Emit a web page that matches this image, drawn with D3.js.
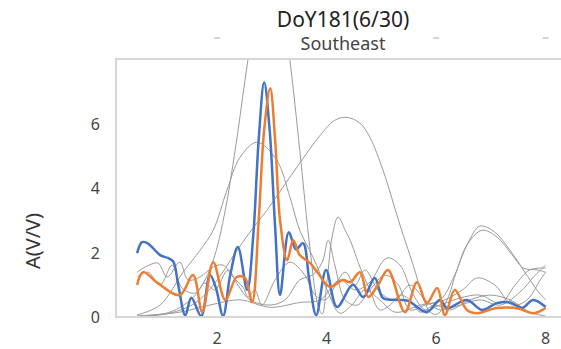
<!DOCTYPE html>
<html>
<head>
<meta charset="utf-8">
<script src="https://cdn.jsdelivr.net/npm/d3@7"></script>
<style>
  body { margin: 0; background: #fff; }
  text { font-family: "Noto Sans", sans-serif; }
</style>
</head>
<body>
<div id="chart"></div>
<script>
// frequency (x) and amplitude A(V/V)
const blueX = [0.54,0.63,0.72,0.81,0.96,1.10,1.20,1.29,1.42,1.53,1.71,1.87,1.98,2.11,2.24,2.38,2.55,2.66,2.76,2.86,2.96,3.06,3.15,3.31,3.44,3.57,3.68,3.81,3.99,4.19,4.48,4.67,4.88,5.03,5.29,5.49,5.83,6.07,6.20,6.56,6.84,7.11,7.35,7.57,7.77,8.00];
const blueY = [1.98,2.32,2.30,2.17,1.92,1.83,1.72,1.00,0.05,0.60,0.03,1.30,0.90,0.03,1.30,2.17,0.84,2.50,5.50,7.28,5.80,2.80,0.68,2.63,2.10,2.29,1.20,0.06,1.46,0.31,1.00,0.62,1.21,0.59,0.53,0.50,0.15,0.53,0.28,0.53,0.22,0.43,0.45,0.28,0.53,0.31];

const orangeX = [0.54,0.65,0.92,1.32,1.56,1.73,1.93,2.15,2.36,2.51,2.64,2.76,2.86,2.97,3.06,3.15,3.28,3.39,3.51,3.70,3.83,4.06,4.30,4.43,4.61,4.76,4.94,5.12,5.43,5.65,5.83,6.02,6.16,6.34,6.56,6.75,7.11,7.48,7.78,8.00];
const orangeY = [0.99,1.39,1.05,0.68,1.30,0.15,1.70,0.53,1.24,1.21,0.46,3.00,5.80,7.09,5.50,3.00,1.76,2.38,1.92,1.67,1.39,0.93,1.15,1.08,1.39,0.62,1.00,1.46,0.15,1.08,0.43,0.90,0.06,0.84,0.22,0.12,0.28,0.27,0.12,0.28];

// thin grey reference curves
const grey1X = [0.54,1.14,1.56,1.78,1.96,2.15,2.33,2.51,2.69,2.91,3.15,3.33,3.51,3.70,3.84,3.92,4.01,4.10,4.21,4.34,4.43,4.61,4.79,4.97,5.16,5.34,5.52,5.71,5.98,6.25,6.62,6.98,7.35,7.71,8.00];
const grey1Y = [0.03,0.15,0.60,1.15,1.92,3.31,5.17,7.34,9.50,12.3,10.1,7.96,5.17,2.07,0.37,0.09,1.15,2.48,3.10,2.69,2.38,1.55,0.84,0.22,0.37,0.68,0.53,0.15,0.37,0.22,0.53,0.68,0.53,0.15,0.03];

const grey2X = [0.54,1.14,1.60,1.96,2.33,2.60,2.91,3.20,3.51,3.88,4.15,4.37,4.61,4.79,5.03,5.34,5.58,5.76,5.89,6.02,6.20,6.38,6.58,6.80,7.07,7.35,7.62,7.84,8.00];
const grey2Y = [0.00,0.12,0.43,1.05,1.98,2.63,3.31,4.02,4.77,5.63,6.10,6.19,6.01,5.57,4.55,2.85,1.61,0.62,0.15,0.09,0.53,1.46,2.29,2.82,2.63,2.07,1.39,0.84,0.53];

const grey3X = [0.54,0.96,1.38,1.69,1.93,2.18,2.42,2.73,3.09,3.33,3.51,3.75,4.01,4.24,4.46,4.70,4.97,5.25,5.71,6.07,6.34,6.56,6.84,7.11,7.39,7.59,7.84,8.00];
const grey3Y = [0.06,0.37,1.39,2.07,2.69,3.93,4.95,5.42,4.86,3.72,2.69,1.86,0.84,0.12,0.37,0.84,0.53,0.15,0.37,0.53,1.30,2.23,2.69,2.48,1.92,1.52,1.46,1.39];

const grey4X = [0.54,0.69,0.92,1.09,1.32,1.47,1.69,1.93,2.11,2.29,2.47,2.57,2.69,2.82,3.06,3.33,3.60,3.79,3.97,4.34,4.52,4.70,4.97,5.25,5.52,5.80,6.07,6.44,6.80,7.17,7.53,7.81,8.00];
const grey4Y = [1.39,1.55,1.67,1.24,1.70,1.15,1.24,1.55,1.61,1.24,0.93,0.62,0.84,0.37,1.15,1.70,1.30,0.68,0.53,1.39,0.99,1.46,0.77,0.53,0.99,0.53,0.22,0.37,0.53,0.37,0.77,1.30,1.61];

const grey5X = [0.54,0.74,0.96,1.18,1.36,1.60,1.78,1.96,2.20,2.38,2.60,2.97,3.24,3.51,3.74,3.92,4.03,4.15,4.34,4.56,4.79,5.07,5.31,5.52,5.80,6.16,6.48,6.75,7.07,7.39,7.66,7.90,8.00];
const grey5Y = [1.24,1.39,0.99,1.61,0.90,0.74,1.05,0.84,1.46,0.99,0.53,0.37,0.53,1.15,1.30,1.70,2.38,1.61,0.53,0.37,0.84,1.30,0.99,0.22,0.37,0.53,0.84,1.21,0.99,0.37,0.53,1.15,1.39];

const grey6X = [0.54,1.32,1.87,2.42,2.97,3.51,3.88,4.24,4.52,4.79,5.10,5.34,5.56,5.80,6.07,6.44,6.80,7.17,7.44,7.71,8.00];
const grey6Y = [0.03,0.15,0.37,0.53,0.30,0.45,0.53,1.15,0.84,1.08,1.83,1.61,0.77,0.22,0.37,0.59,0.68,0.43,0.99,1.46,1.52];

const greyX = [grey1X, grey2X, grey3X, grey4X, grey5X, grey6X];
const greyY = [grey1Y, grey2Y, grey3Y, grey4Y, grey5Y, grey6Y];

const xTicks = [2, 4, 6, 8];
const yTicks = [0, 2, 4, 6];
const topTicks = [2, 6, 8];

const title = 'DoY181(6/30)';
const subtitle = 'Southeast';
const yLabel = 'A(V/V)';

const W = 561, H = 349;
const plot = d3.select('#chart').append('svg')
  .attr('width', W)
  .attr('height', H);

const x = d3.scaleLinear().domain([0.155, 8.535]).range([116, 575]);
const y = d3.scaleLinear().domain([0, 8]).range([317, 59]);

plot.append('clipPath').attr('id', 'clip')
  .append('rect')
  .attr('x', 116).attr('y', 59)
  .attr('width', 459).attr('height', 258);

const line = d3.line()
  .x(d => x(d[0]))
  .y(d => y(d[1]))
  .curve(d3.curveCatmullRom.alpha(0.5));

const g = plot.append('g').attr('clip-path', 'url(#clip)');

greyX.forEach((xs, i) => {
  g.append('path')
    .datum(xs.map((v, j) => [v, greyY[i][j]]))
    .attr('d', line)
    .style('fill', 'none')
    .style('stroke', '#9a9a9a')
    .style('stroke-width', 1);
});

g.append('path')
  .datum(blueX.map((v, j) => [v, blueY[j]]))
  .attr('d', line)
  .style('fill', 'none')
  .style('stroke', '#4472c4')
  .style('stroke-width', 2.5);

g.append('path')
  .datum(orangeX.map((v, j) => [v, orangeY[j]]))
  .attr('d', line)
  .style('fill', 'none')
  .style('stroke', '#ed7d31')
  .style('stroke-width', 2.5);

// frame
const frame = plot.append('g').style('stroke', '#d6d6d6').style('stroke-width', 2);
frame.append('line').attr('x1', 116).attr('x2', 116).attr('y1', 59).attr('y2', 317);
frame.append('line').attr('x1', 115).attr('x2', 575).attr('y1', 59).attr('y2', 59);
frame.append('line').attr('x1', 115).attr('x2', 575).attr('y1', 317).attr('y2', 317);

// tick labels
plot.selectAll('.xlab')
  .data(xTicks)
  .enter()
  .append('text')
  .attr('class', 'xlab')
  .attr('x', d => x(d))
  .attr('y', 344)
  .attr('text-anchor', 'middle')
  .style('font-size', '16px')
  .style('fill', '#444')
  .text(d => d);

plot.selectAll('.ylab')
  .data(yTicks)
  .enter()
  .append('text')
  .attr('class', 'ylab')
  .attr('x', 100)
  .attr('y', d => y(d) + 6)
  .attr('text-anchor', 'end')
  .style('font-size', '16px')
  .style('fill', '#444')
  .text(d => d);

// faint top tick dashes
plot.selectAll('.ttick')
  .data(topTicks)
  .enter()
  .append('line')
  .attr('x1', d => x(d) - 3)
  .attr('x2', d => x(d) + 3)
  .attr('y1', 38).attr('y2', 38)
  .style('stroke', '#aaa')
  .style('stroke-width', 1);

plot.append('text')
  .attr('x', 343).attr('y', 27)
  .attr('text-anchor', 'middle')
  .style('font-size', '21px')
  .style('fill', '#222')
  .text(title);

plot.append('text')
  .attr('x', 343).attr('y', 50)
  .attr('text-anchor', 'middle')
  .style('font-size', '18px')
  .style('fill', '#444')
  .text(subtitle);

plot.append('text')
  .attr('transform', 'translate(40,241) rotate(-90)')
  .attr('text-anchor', 'middle')
  .style('font-size', '20px')
  .style('fill', '#333')
  .text(yLabel);
</script>
</body>
</html>
